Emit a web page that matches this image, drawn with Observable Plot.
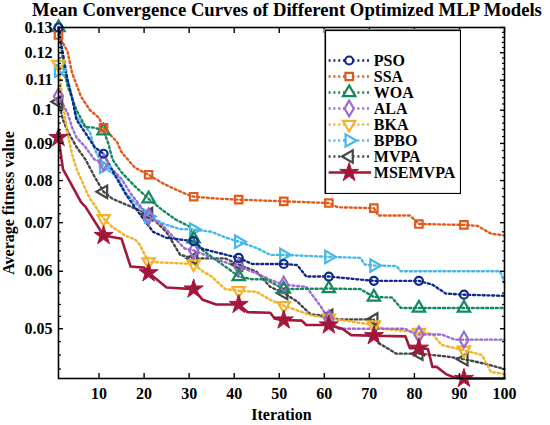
<!DOCTYPE html>
<html><head><meta charset="utf-8">
<script src="https://cdn.jsdelivr.net/npm/d3@7"></script>
<script src="https://cdn.jsdelivr.net/npm/@observablehq/plot@0.6"></script>
<style>
body{margin:0;background:#fff;}
#wrap{position:relative;width:550px;height:425px;overflow:hidden;background:#fff;}
#chart{position:absolute;left:0;top:0;}
#title{position:absolute;left:17px;top:-1px;width:540px;text-align:center;font:bold 18.7px "Liberation Serif",serif;line-height:22px;color:#000;white-space:nowrap;}
#legend{position:absolute;left:324px;top:29px;}
</style></head><body>
<div id="wrap"><div id="chart"></div><div id="title">Mean Convergence Curves of Different Optimized MLP Models</div><div id="legend"></div></div>
<script>
// ---- data ----
const seriesNames = ["PSO","SSA","WOA","ALA","BKA","BPBO","MVPA","MSEMVPA"];

const psoIter  = [1,3,4,5,7,9,11,12,14,16,19,22,25,31,33,41,44,51,54,56,61,71,81,84,87,91,100];
const psoValue = [0.13,0.110,0.104,0.097,0.093,0.089,0.0871,0.0847,0.0804,0.0765,0.072,0.068,0.0667,0.066,0.0644,0.0626,0.0614,0.0614,0.0612,0.059,0.059,0.0582,0.0582,0.0575,0.0559,0.0557,0.0555];

const ssaIter  = [1,3,4,6,8,10,11,14,15,18,21,24,26,29,31,37,41,51,61,63,71,72,79,81,91,94,97,100];
const ssaValue = [0.127,0.1205,0.1126,0.1044,0.1,0.0976,0.0946,0.0904,0.0875,0.0833,0.0815,0.0794,0.0783,0.0768,0.076,0.0755,0.0753,0.0749,0.0745,0.0735,0.0733,0.0716,0.0716,0.0697,0.0695,0.0693,0.0676,0.0672];

const woaIter  = [1,2,3,4,5,7,9,11,12,13,15,18,21,24,27,30,31,32,35,39,41,44,47,51,61,68,71,75,77,81,91,100];
const woaValue = [0.13,0.117,0.108,0.104,0.1,0.0948,0.0946,0.0937,0.0902,0.0855,0.0821,0.0785,0.0755,0.0729,0.0707,0.0692,0.0665,0.0648,0.0628,0.0603,0.059,0.0585,0.0585,0.0567,0.0568,0.0567,0.0553,0.0552,0.0534,0.0534,0.0534,0.0534];

const alaIter  = [1,3,4,5,7,9,11,13,15,17,21,24,27,29,31,36,41,45,48,51,56,59,61,63,78,80,81,86,89,91,100];
const alaValue = [0.1045,0.0992,0.0947,0.0917,0.0889,0.0855,0.0847,0.0828,0.0804,0.0768,0.0714,0.0695,0.0664,0.0645,0.0641,0.0623,0.0609,0.0596,0.0584,0.0575,0.0571,0.0539,0.0516,0.05,0.05,0.0492,0.0491,0.0491,0.0483,0.0483,0.0483];

const bkaIter  = [1,2,3,4,5,7,8,9,11,13,16,18,19,21,31,33,35,38,41,45,48,51,57,61,71,73,81,84,86,91,95,97,100];
const bkaValue = [0.1156,0.102,0.093,0.087,0.083,0.0778,0.0755,0.074,0.0709,0.069,0.0671,0.0664,0.0653,0.0618,0.0614,0.06,0.059,0.0567,0.0564,0.0562,0.0548,0.0538,0.0522,0.0517,0.0506,0.05,0.0494,0.0492,0.0475,0.0467,0.046,0.0436,0.0433];

const bpboIter  = [1,3,4,5,8,9,11,14,16,21,25,28,31,35,38,41,45,48,51,61,68,69,71,76,77,99,100];
const bpboValue = [0.1134,0.1102,0.1044,0.0978,0.0932,0.0884,0.0836,0.081,0.0768,0.0714,0.0695,0.0686,0.0685,0.068,0.0668,0.0659,0.0646,0.0632,0.0632,0.0628,0.0626,0.0613,0.0611,0.061,0.06,0.06,0.0579];

const mvpaIter  = [1,2,3,5,7,9,11,13,21,25,28,31,38,41,45,48,51,54,57,61,63,71,72,76,81,87,91,96,100];
const mvpaValue = [0.1027,0.097,0.0936,0.089,0.0855,0.081,0.0772,0.0755,0.0719,0.0679,0.0632,0.0625,0.0625,0.0613,0.0599,0.0571,0.056,0.0545,0.0523,0.0521,0.0515,0.0515,0.0478,0.0462,0.0462,0.0458,0.0454,0.0447,0.044];

const msemvpaIter  = [1,2,3,6,7,11,15,17,20,21,25,31,33,36,41,43,48,49,51,55,56,61,64,66,71,78,79,81,83,84,85,87,89,91,100];
const msemvpaValue = [0.0917,0.0829,0.0808,0.0747,0.0736,0.0672,0.0665,0.0609,0.0607,0.0597,0.057,0.0567,0.0548,0.054,0.054,0.0527,0.0526,0.0516,0.0514,0.0513,0.0506,0.0506,0.05,0.049,0.0489,0.0488,0.047,0.047,0.0469,0.0443,0.0443,0.0433,0.0428,0.0427,0.0427];

const xTicks = [10,20,30,40,50,60,70,80,90,100];
const yTicks = [0.05,0.06,0.07,0.08,0.09,0.1,0.11,0.12,0.13];
const yTickLabels = ["0.05","0.06","0.07","0.08","0.09","0.1","0.11","0.12","0.13"];
const yMinorTicks = d3.range(44, 131, 2).map(d => d / 1000).filter(v => !yTicks.some(t => Math.abs(t - v) < 1e-9));

// ---- styles ----
const colors  = ["#0f2a8c","#e05a1e","#138a5e","#9b6bd1","#f2b32a","#45b8ea","#454545","#a3173a"];
const symbols = ["circle","square","triangle","diamond","triangle","triangle","triangle","star"];
const rotates = [0,0,0,0,180,90,-90,0];
const radii   = [4,4.2,4.6,4.8,4.6,4.6,4.6,6];
const dotted  = "2 2.8";

const iters  = [psoIter, ssaIter, woaIter, alaIter, bkaIter, bpboIter, mvpaIter, msemvpaIter];
const values = [psoValue, ssaValue, woaValue, alaValue, bkaValue, bpboValue, mvpaValue, msemvpaValue];

const rows = [];
seriesNames.forEach((name, i) => iters[i].forEach((it, j) => rows.push({series: name, idx: i, iteration: it, value: values[i][j]})));

const lineMarks = [];
const dotMarks = [];
seriesNames.forEach((name, i) => {
  const data = rows.filter(r => r.series === name);
  const solid = name === "MSEMVPA";
  lineMarks.push(Plot.line(data, {x: "iteration", y: "value", stroke: colors[i], strokeWidth: solid ? 2.6 : 2.4,
    strokeDasharray: solid ? null : dotted, strokeLinejoin: "round"}));
  const mk = data.filter(r => (r.iteration - 1) % 10 === 0);
  dotMarks.push(Plot.dot(mk, {x: "iteration", y: "value", symbol: () => symbols[i], r: radii[i], rotate: rotates[i],
    stroke: colors[i], strokeWidth: solid ? 1 : 2.2, fill: solid ? colors[i] : "none"}));
});
const order = [6,5,4,3,2,1,0,7];
const yLabelOf = d => yTickLabels[yTicks.findIndex(t => Math.abs(t - d) < 1e-9)] ?? "";

const chart = Plot.plot({
  width: 550, height: 425,
  marginLeft: 58, marginRight: 46, marginTop: 27, marginBottom: 47,
  style: {fontFamily: "'Liberation Serif', serif", fontSize: "16px", fontWeight: "bold", background: "white", color: "black", overflow: "visible"},
  x: {domain: [1, 100]},
  y: {type: "log", domain: [0.0427, 0.13]},
  marks: [
    ...order.map(i => lineMarks[i]),
    ...order.map(i => dotMarks[i]),
    Plot.frame({stroke: "black", strokeWidth: 1.6}),
    Plot.axisX({ticks: xTicks, tickSize: -5, tickPadding: 14, tickFormat: d => String(d), label: "Iteration", labelAnchor: "center", labelArrow: "none", labelOffset: 41, strokeWidth: 1.4}),
    Plot.axisX({anchor: "top", ticks: xTicks, tickSize: -5, tickFormat: () => "", label: null, strokeWidth: 1.4}),
    Plot.axisY({ticks: yTicks, tickSize: -5, tickPadding: 11, tickFormat: yLabelOf, label: "Average fitness value", labelAnchor: "center", labelOffset: 56, labelArrow: "none", strokeWidth: 1.4}),
    Plot.axisY({anchor: "right", ticks: yTicks, tickSize: -5, tickFormat: () => "", label: null, strokeWidth: 1.4}),
    Plot.axisY({ticks: yMinorTicks, tickSize: -3, tickFormat: () => "", label: null, strokeWidth: 1.2}),
    Plot.axisY({anchor: "right", ticks: yMinorTicks, tickSize: -3, tickFormat: () => "", label: null, strokeWidth: 1.2})
  ]
});
document.getElementById("chart").appendChild(chart);

// ---- legend ----
const legendRows = seriesNames.map((name, i) => ({series: name, idx: i}));
const legend = Plot.plot({
  width: 137, height: 165,
  margin: 0,
  style: {fontFamily: "'Liberation Serif', serif", fontSize: "16px", fontWeight: "bold", background: "white", color: "black"},
  x: {domain: [0, 1], range: [0, 137], axis: null},
  y: {type: "point", domain: seriesNames, range: [19, 154], axis: null},
  marks: [
    Plot.frame({stroke: "black", strokeWidth: 1.6, inset: 0.8, fill: "white"}),
    ...legendRows.map(r => Plot.link([r], {x1: () => 0.03, x2: () => 0.34, y1: "series", y2: "series", stroke: colors[r.idx],
      strokeWidth: r.series === "MSEMVPA" ? 2.6 : 2.4, strokeDasharray: r.series === "MSEMVPA" ? null : dotted})),
    ...legendRows.map(r => Plot.dot([r], {x: () => 0.18, y: "series", symbol: () => symbols[r.idx], r: radii[r.idx], rotate: rotates[r.idx],
      stroke: colors[r.idx], strokeWidth: r.series === "MSEMVPA" ? 1 : 2.2, fill: r.series === "MSEMVPA" ? colors[r.idx] : "white"})),
    Plot.text(legendRows, {x: () => 0.36, y: "series", text: "series", textAnchor: "start", fill: "black"})
  ]
});
document.getElementById("legend").appendChild(legend);
</script>
</body></html>
